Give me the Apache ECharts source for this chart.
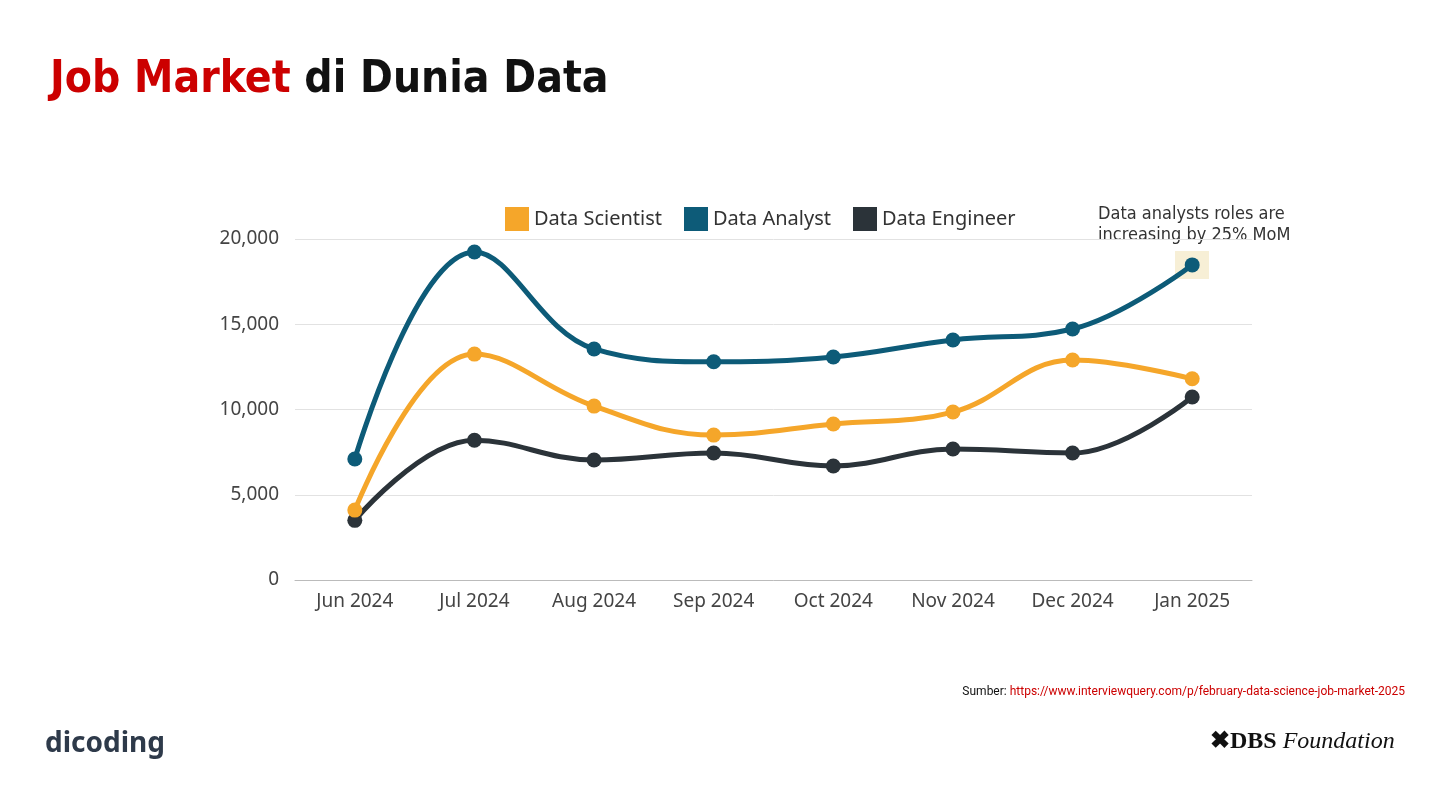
<!DOCTYPE html>
<html><head><meta charset="utf-8">
<script src="https://cdn.jsdelivr.net/npm/echarts@6/dist/echarts.min.js"></script>
<style>html,body{margin:0;padding:0;background:#fff;}#chartArea{width:1440px;height:810px;}</style>
</head><body><div id="chartArea"></div>
<script>
var months = ['Jun 2024', 'Jul 2024', 'Aug 2024', 'Sep 2024', 'Oct 2024', 'Nov 2024', 'Dec 2024', 'Jan 2025'];
var scientist = [4100, 13250, 10200, 8500, 9150, 9850, 12900, 11800];
var analyst = [7100, 19240, 13550, 12800, 13080, 14080, 14720, 18480];
var engineer = [3500, 8200, 7040, 7450, 6690, 7680, 7450, 10730];

var myChart = echarts.init(document.getElementById('chartArea'));
var titleFont = '"DejaVu Sans Condensed", sans-serif';

function lineSeries(name, data, color) {
    return {
        name: name,
        type: 'line',
        data: data,
        smooth: 0.4,
        symbol: 'circle',
        symbolSize: 15,
        itemStyle: { color: color },
        lineStyle: { width: 5, color: color }
    };
}

var option = {
    backgroundColor: '#fff',
    animation: false,
    title: {
        text: '{r|Job Market} di Dunia Data',
        left: 45, top: 54,
        textStyle: {
            fontFamily: titleFont, fontSize: 44, fontWeight: 'bold', color: '#111',
            rich: { r: { color: '#cc0000', fontSize: 44, fontWeight: 'bold', fontFamily: titleFont } }
        }
    },
    legend: {
        top: 202, left: 500,
        itemWidth: 24, itemHeight: 24, itemGap: 22,
        icon: 'rect',
        textStyle: { fontSize: 20, color: '#333', fontFamily: '"Noto Sans", sans-serif' },
        data: ['Data Scientist', 'Data Analyst', 'Data Engineer']
    },
    grid: { left: 295, right: 188, top: 239, bottom: 230, containLabel: false },
    xAxis: {
        type: 'category',
        boundaryGap: true,
        data: months,
        axisLine: { lineStyle: { color: '#bbb' } },
        axisTick: { show: false },
        axisLabel: { fontSize: 19, color: '#444', margin: 12, fontFamily: '"Noto Sans", sans-serif' }
    },
    yAxis: {
        type: 'value',
        min: 0, max: 20000, interval: 5000,
        axisLabel: {
            fontSize: 19, color: '#444', margin: 16, fontFamily: '"Noto Sans", sans-serif',
            formatter: function (v) { return v.toLocaleString('en-US'); }
        },
        splitLine: { lineStyle: { color: '#e2e2e2' } }
    },
    series: [
        lineSeries('Data Engineer', engineer, '#2b3339'),
        lineSeries('Data Scientist', scientist, '#f5a62a'),
        lineSeries('Data Analyst', analyst, '#0d5b78')
    ],
    graphic: [
        { type: 'rect', left: 1175, top: 251, shape: { width: 34, height: 28 }, style: { fill: '#f7efd6' }, z: -1 },
        { type: 'text', left: 1098, top: 204, style: { text: 'Data analysts roles are\nincreasing by 25% MoM', font: '18px "DejaVu Sans Condensed", sans-serif', fill: '#333', lineHeight: 21 } },
        { type: 'text', right: 35, top: 686, style: { text: 'Sumber: {l|https://www.interviewquery.com/p/february-data-science-job-market-2025}', font: '12px "Roboto", sans-serif', fill: '#111', rich: { l: { fill: '#cc0000', textDecoration: 'underline', font: '12px "Roboto", sans-serif' } } } },
        { type: 'text', left: 45, top: 730, style: { text: 'dicoding', font: 'bold 28px "Noto Sans", sans-serif', fill: '#2e3a4a' } },
        { type: 'text', left: 1210, top: 730, style: { text: '✖DBS {f|Foundation}', font: 'bold 24px "Liberation Serif", serif', fill: '#111', rich: { f: { font: 'italic 24px "Liberation Serif", serif', fill: '#111' } } } }
    ]
};
myChart.setOption(option);
</script>
</body></html>
